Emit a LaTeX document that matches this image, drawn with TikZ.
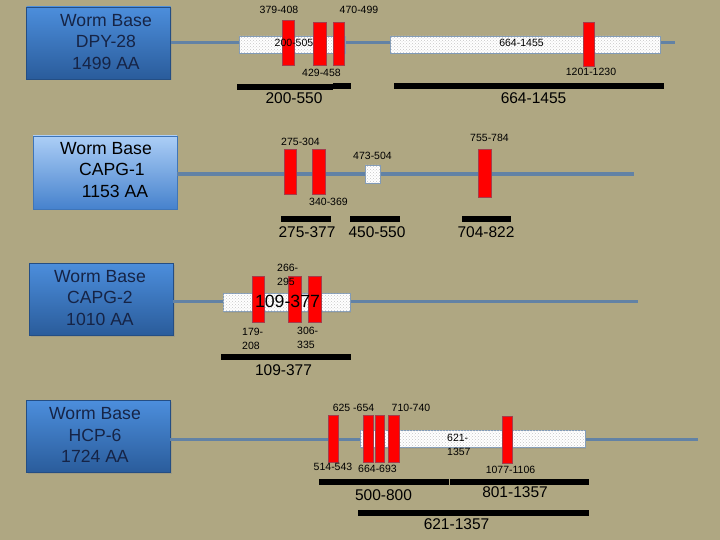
\documentclass[tikz,border=0pt]{standalone}
\usepackage{fontspec}
\setmainfont{Liberation Sans}
\usetikzlibrary{patterns,shadows}
\definecolor{bg}{RGB}{175,167,130}
\definecolor{spinec}{RGB}{98,130,165}
\definecolor{boxtop}{RGB}{76,142,220}
\definecolor{boxbot}{RGB}{42,92,155}
\definecolor{ltop}{RGB}{172,206,246}
\definecolor{lbot}{RGB}{70,130,205}
\definecolor{navy}{RGB}{22,36,70}
\definecolor{redline}{RGB}{165,60,75}
\begin{document}
\begin{tikzpicture}[x=1pt,y=-1pt,
  wb/.style={rectangle, minimum width=144pt, minimum height=72pt, top color=boxtop, bottom color=boxbot, draw=boxbot!85!black, line width=0.5pt, drop shadow={opacity=0.3, shadow xshift=1.5pt, shadow yshift=-1.5pt}, inner sep=0},
  wbl/.style={rectangle, minimum width=144pt, minimum height=73pt, top color=ltop, bottom color=lbot, draw=lbot!90!black, line width=0.8pt, inner sep=0},
  wbtext/.style={align=center, font=\fontsize{17.6}{21.5}\selectfont, inner sep=0},
  spine/.style={draw=spinec, line width=3pt},
  dom/.style={rectangle, fill=white, draw=spinec!80, line width=0.8pt, inner sep=0, drop shadow={opacity=0.25, shadow xshift=1pt, shadow yshift=-1.5pt}, postaction={pattern=crosshatch dots, pattern color=gray!45}},
  rbar/.style={rectangle, fill=red, draw=redline, line width=0.6pt, inner sep=0},
  lab/.style={font=\fontsize{10.5}{14}\selectfont, inner sep=0},
  rng/.style={font=\fontsize{15.5}{17}\selectfont, inner sep=0},
  bar/.style={draw=black, line width=5.5pt}
]
\useasboundingbox (0,0) rectangle (720,540);
\fill[bg] (0,0) rectangle (720,540);

% ---------- Row 1: DPY-28 ----------
\node[wb] (b1) at (98.5,43) {};
\node[wbtext, text=navy] (t1) at (106,42) {Worm Base\\DPY-28\\1499 AA};
\coordinate (e1) at (675,43);
\draw[spine] (b1.east |- e1) -- (e1);
\node[dom, minimum width=106pt, minimum height=17pt] (d1a) at (292,44.5) {};
\node[dom, minimum width=270pt, minimum height=17pt] (d1b) at (525,44.5) {};
\node[rbar, minimum width=12pt, minimum height=45pt] (r1a) at (288,42.5) {};
\node[rbar, minimum width=13pt, minimum height=43pt] (r1b) at (319.5,43.5) {};
\node[rbar, minimum width=11pt, minimum height=43pt] (r1c) at (338.5,43.5) {};
\node[rbar, minimum width=11pt, minimum height=44pt] (r1d) at (588.5,44) {};
\node[lab] (l1a) at (279,9.5) {379-408};
\node[lab] (l1b) at (359,9.5) {470-499};
\node[lab] (l1c) at (321.5,72.5) {429-458};
\node[lab] (l1d) at (294,43) {200-505};
\node[lab] (l1e) at (521.5,43) {664-1455};
\node[lab] (l1f) at (591,71.5) {1201-1230};
\coordinate (k1a) at (237,87); \coordinate (k1b) at (333,87);
\coordinate (k1c) at (333,86); \coordinate (k1d) at (351,86);
\coordinate (k1e) at (394,86); \coordinate (k1f) at (664,86);
\draw[bar] (k1a) -- (k1b);
\draw[bar] (k1c) -- (k1d);
\draw[bar] (k1e) -- (k1f);
\node[rng] (g1a) at (294,98.5) {200-550};
\node[rng] (g1b) at (533.5,98.5) {664-1455};

% ---------- Row 2: CAPG-1 ----------
\node[wbl] (b2) at (105,172.5) {};
\node[wbtext, text=black] (t2) at (106,170) {Worm Base\\\hspace*{12pt}CAPG-1\\\hspace*{18pt}1153 AA};
\coordinate (e2) at (634,174);
\draw[spine, line width=3.8pt] (b2.east |- e2) -- (e2);
\node[rbar, minimum width=12pt, minimum height=45pt] (r2a) at (290,171.5) {};
\node[rbar, minimum width=13pt, minimum height=45pt] (r2b) at (318.5,171.5) {};
\node[dom, minimum width=15pt, minimum height=18pt] (d2) at (372.5,174) {};
\node[rbar, minimum width=13pt, minimum height=48pt] (r2c) at (485,173) {};
\node[lab] (l2a) at (300.5,141.5) {275-304};
\node[lab] (l2b) at (328.5,202) {340-369};
\node[lab] (l2c) at (372.5,155.5) {473-504};
\node[lab] (l2d) at (489.5,138) {755-784};
\coordinate (k2a) at (281,219); \coordinate (k2b) at (331,219);
\coordinate (k2c) at (350,219); \coordinate (k2d) at (400,219);
\coordinate (k2e) at (462,219); \coordinate (k2f) at (511,219);
\draw[bar] (k2a) -- (k2b);
\draw[bar] (k2c) -- (k2d);
\draw[bar] (k2e) -- (k2f);
\node[rng] (g2a) at (307,232) {275-377};
\node[rng] (g2b) at (377,232) {450-550};
\node[rng] (g2c) at (486,232) {704-822};

% ---------- Row 3: CAPG-2 ----------
\node[wb] (b3) at (101,299) {};
\node[wbtext, text=navy] (t3) at (100,298) {Worm Base\\CAPG-2\\1010 AA};
\coordinate (e3) at (638,301.5);
\draw[spine] (b3.east |- e3) -- (e3);
\node[dom, minimum width=127pt, minimum height=18pt] (d3) at (286.5,302) {};
\node[rbar, minimum width=12pt, minimum height=46pt] (r3a) at (258,299) {};
\node[rbar, minimum width=13pt, minimum height=46pt] (r3b) at (295,299) {};
\node[rbar, minimum width=13pt, minimum height=46pt] (r3c) at (314.5,299) {};
\node[font=\fontsize{17.7}{20}\selectfont, inner sep=0] (l3d) at (287.5,301.5) {109-377};
\node[lab, align=left, anchor=west] (l3a) at (277,274.5) {266-\\295};
\node[lab, align=left, anchor=west] (l3b) at (242,338.5) {179-\\208};
\node[lab, align=left, anchor=west] (l3c) at (297,337.5) {306-\\335};
\coordinate (k3a) at (221,357); \coordinate (k3b) at (351,357);
\draw[bar] (k3a) -- (k3b);
\node[rng] (g3a) at (283.5,370) {109-377};

% ---------- Row 4: HCP-6 ----------
\node[wb] (b4) at (98,436.5) {};
\node[wbtext, text=navy] (t4) at (95,435) {Worm Base\\HCP-6\\1724 AA};
\coordinate (e4) at (698,439);
\draw[spine] (b4.east |- e4) -- (e4);
\node[dom, minimum width=225pt, minimum height=17pt] (d4) at (472.5,438.5) {};
\node[rbar, minimum width=10pt, minimum height=47pt] (r4a) at (333,438.5) {};
\node[rbar, minimum width=10pt, minimum height=47pt] (r4b) at (368,438.5) {};
\node[rbar, minimum width=9pt, minimum height=47pt] (r4c) at (379.5,438.5) {};
\node[rbar, minimum width=11pt, minimum height=47pt] (r4d) at (393.5,438.5) {};
\node[rbar, minimum width=10pt, minimum height=47pt] (r4e) at (507,439.5) {};
\node[lab] (l4a) at (353.5,407.5) {625 -654};
\node[lab] (l4b) at (411,407.5) {710-740};
\node[lab] (l4c) at (333,467) {514-543};
\node[lab] (l4d) at (377.5,469) {664-693};
\node[lab] (l4e) at (510.5,469.5) {1077-1106};
\node[lab, align=left, anchor=west] (l4f) at (447,445) {621-\\1357};
\coordinate (k4a) at (319,482); \coordinate (k4b) at (449,482);
\coordinate (k4c) at (450,482); \coordinate (k4d) at (589,482);
\coordinate (k4e) at (358,513); \coordinate (k4f) at (589,513);
\draw[bar] (k4a) -- (k4b);
\draw[bar] (k4c) -- (k4d);
\draw[bar] (k4e) -- (k4f);
\node[rng] (g4a) at (383.5,495.5) {500-800};
\node[rng] (g4b) at (515,492.5) {801-1357};
\node[rng] (g4c) at (456.5,524) {621-1357};
\end{tikzpicture}
\end{document}
